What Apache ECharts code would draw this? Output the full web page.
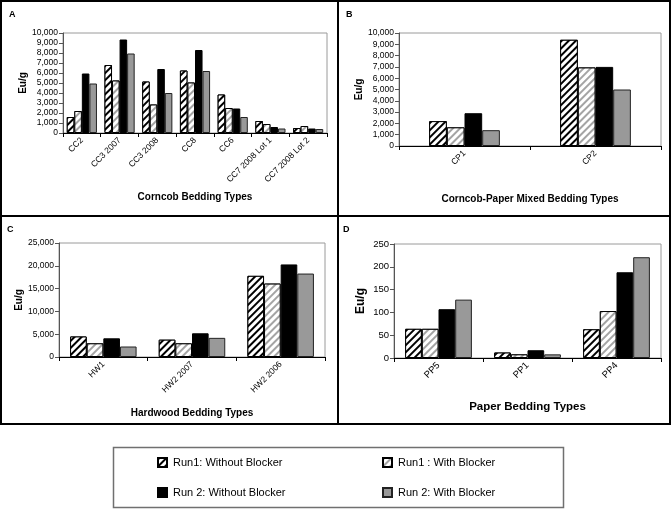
<!DOCTYPE html>
<html lang="en">
<head>
<meta charset="UTF-8">
<title>Eu/g by bedding type</title>
<script src="https://cdn.jsdelivr.net/npm/echarts@6/dist/echarts.min.js"></script>
<style type="text/css">
body{margin:0; padding:0; background:#fff;}
#main{width:672px;height:509px;}
</style>
</head>
<body>
<div id="main"></div>
<script type="text/javascript">
// ---- data ----
var seriesNames = ['Run1: Without Blocker', 'Run1 : With Blocker', 'Run 2: Without Blocker', 'Run 2: With Blocker'];

var catsA = ['CC2', 'CC3 2007', 'CC3 2008', 'CC8', 'CC6', 'CC7 2008 Lot 1', 'CC7 2008 Lot 2'];
var run1NoA = [1600, 6800, 5150, 6250, 3850, 1200, 500];
var run1WithA = [2200, 5250, 2850, 5050, 2500, 900, 700];
var run2NoA = [5950, 9350, 6400, 8300, 2450, 600, 450];
var run2WithA = [4950, 7950, 4000, 6200, 1600, 450, 400];

var catsB = ['CP1', 'CP2'];
var run1NoB = [2200, 9400];
var run1WithB = [1650, 6950];
var run2NoB = [2900, 7000];
var run2WithB = [1400, 5000];

var catsC = ['HW1', 'HW2 2007', 'HW2 2006'];
var run1NoC = [4500, 3800, 17800];
var run1WithC = [3000, 3000, 16100];
var run2NoC = [4100, 5200, 20300];
var run2WithC = [2300, 4200, 18300];

var catsD = ['PP5', 'PP1', 'PP4'];
var run1NoD = [64, 12, 63];
var run1WithD = [64, 8, 103];
var run2NoD = [107, 17, 188];
var run2WithD = [128, 8, 221];

var font = "'Liberation Sans', Arial, sans-serif";

// diagonal hatching, lines going up to the right
var hatchDark = {
    symbol: 'rect', symbolSize: 1, color: '#000', backgroundColor: '#fff',
    dashArrayX: [1, 0], dashArrayY: [2, 3], rotation: -Math.PI / 4
};
var hatchLight = {
    symbol: 'rect', symbolSize: 1, color: '#a4a4a4', backgroundColor: '#fff',
    dashArrayX: [1, 0], dashArrayY: [2, 3], rotation: -Math.PI / 4
};
var styles = [
    {color: '#fff', borderColor: '#000', borderWidth: 1, decal: hatchDark},
    {color: '#fff', borderColor: '#000', borderWidth: 1, decal: hatchLight},
    {color: '#000', borderColor: '#000', borderWidth: 1},
    {color: '#999', borderColor: '#222', borderWidth: 1}
];

var grids = [
    {left: 63, top: 33, width: 264, height: 100},
    {left: 399, top: 33, width: 262, height: 113},
    {left: 59, top: 243, width: 266, height: 114},
    {left: 394, top: 244, width: 267, height: 114}
];
grids.forEach(function (g) {
    g.show = true; g.borderColor = '#9a9a9a'; g.borderWidth = 1; g.backgroundColor = '#fff';
});

function thousands(v) { return v.toLocaleString('en-US'); }

function xAx(idx, cats, name, gap, nameSize, labelSize) {
    return {
        type: 'category', gridIndex: idx, data: cats,
        name: name, nameLocation: 'middle', nameGap: gap,
        nameTextStyle: {fontFamily: font, fontWeight: 'bold', fontSize: nameSize, color: '#000'},
        axisLine: {lineStyle: {color: '#000', width: 1}},
        axisTick: {show: true, length: 4, lineStyle: {color: '#000'}},
        axisLabel: {rotate: 45, fontFamily: font, fontSize: labelSize, color: '#000', margin: 6, interval: 0}
    };
}
function yAx(idx, max, interval, gap, nameSize, labelSize) {
    return {
        type: 'value', gridIndex: idx, min: 0, max: max, interval: interval,
        name: 'Eu/g', nameLocation: 'middle', nameGap: gap,
        nameTextStyle: {fontFamily: font, fontWeight: 'bold', fontSize: nameSize, color: '#000'},
        axisLine: {show: true, lineStyle: {color: '#555'}},
        axisTick: {show: true, length: 4, lineStyle: {color: '#555'}},
        splitLine: {show: false},
        axisLabel: {fontFamily: font, fontSize: labelSize, color: '#000', margin: 5, formatter: thousands}
    };
}

var panelData = [
    [run1NoA, run1WithA, run2NoA, run2WithA],
    [run1NoB, run1WithB, run2NoB, run2WithB],
    [run1NoC, run1WithC, run2NoC, run2WithC],
    [run1NoD, run1WithD, run2NoD, run2WithD]
];
var catGaps = ['20%', '46%', '25%', '25%'];

var series = [];
panelData.forEach(function (sets, p) {
    sets.forEach(function (vals, s) {
        series.push({
            name: seriesNames[s], type: 'bar',
            xAxisIndex: p, yAxisIndex: p,
            barGap: '0%', barCategoryGap: catGaps[p],
            itemStyle: styles[s],
            emphasis: {disabled: true},
            data: vals
        });
    });
});

function legendAt(name, left, top) {
    return {
        data: [name], left: left, top: top, padding: 0,
        icon: 'rect', itemWidth: 9, itemHeight: 9, itemGap: 0,
        selectedMode: false,
        textStyle: {fontFamily: font, fontSize: 11, color: '#000', padding: [0, 0, 0, 1]}
    };
}

function panelLetter(t, x, y) {
    return {type: 'text', left: x, top: y,
        style: {text: t, fontFamily: font, fontWeight: 'bold', fontSize: 9, fill: '#000'}};
}
function box(x, y, w, h, lw, col) {
    return {type: 'rect', shape: {x: x, y: y, width: w, height: h},
        style: {fill: null, stroke: col, lineWidth: lw}, z: 10, silent: true};
}

var myChart = echarts.init(document.getElementById('main'), null, {renderer: 'canvas'});
var option = {
    animation: false,
    backgroundColor: '#fff',
    grid: grids,
    xAxis: [
        xAx(0, catsA, 'Corncob Bedding Types', 59, 10, 8.5),
        xAx(1, catsB, 'Corncob-Paper Mixed Bedding Types', 48, 10, 8.5),
        xAx(2, catsC, 'Hardwood Bedding Types', 51, 10, 8.5),
        xAx(3, catsD, 'Paper Bedding Types', 43, 11.5, 9.5)
    ],
    yAxis: [
        yAx(0, 10000, 1000, 31, 10, 8.5),
        yAx(1, 10000, 1000, 30, 10, 8.5),
        yAx(2, 25000, 5000, 24, 10, 8.5),
        yAx(3, 250, 50, 27, 12, 9.5)
    ],
    legend: [
        legendAt(seriesNames[0], 157, 457),
        legendAt(seriesNames[1], 382, 457),
        legendAt(seriesNames[2], 157, 487),
        legendAt(seriesNames[3], 382, 487)
    ],
    graphic: [
        box(1, 1, 337, 215, 2, '#000'),
        box(338, 1, 332, 215, 2, '#000'),
        box(1, 216, 337, 208, 2, '#000'),
        box(338, 216, 332, 208, 2, '#000'),
        box(113.5, 447.5, 450, 60, 1.5, '#707070'),
        panelLetter('A', 9, 10),
        panelLetter('B', 346, 10),
        panelLetter('C', 7, 225),
        panelLetter('D', 343, 225)
    ],
    series: series
};
myChart.setOption(option);
</script>
</body>
</html>
